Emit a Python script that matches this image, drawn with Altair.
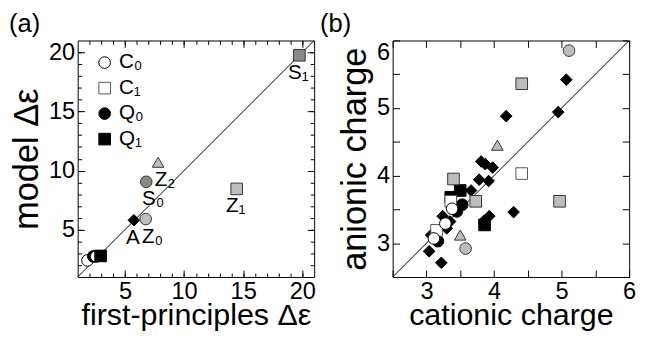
import altair as alt
import pandas as pd

FONT = "Liberation Sans"

# ---- category styles (shared by both panels) ----
cats = ["C₀", "C₁", "Q₀", "Q₁", "Z₀", "Z₁", "Z₂", "S₀", "S₁", "A"]
cat_shape = ["circle", "square", "circle", "square", "circle", "square",
             "triangle-up", "circle", "square", "diamond"]
cat_fill = ["#ffffff", "#ffffff", "#000000", "#000000", "#bdbdbd", "#bdbdbd",
            "#bdbdbd", "#8a8a8a", "#8a8a8a", "#000000"]
cat_stroke = ["#000000", "#555555", "#000000", "#000000", "#333333", "#333333",
              "#333333", "#333333", "#333333", "#000000"]
cat_size = [140, 140, 140, 165, 150, 150, 150, 150, 150, 210]
legend_cats = ["C₀", "C₁", "Q₀", "Q₁"]

# ---- panel (a) data ----
a_cat = ["C₀", "Q₀", "C₀", "Q₁", "A", "Z₀", "S₀", "Z₂", "Z₁", "S₁"]
a_x = [1.83, 2.32, 2.57, 2.94, 5.75, 6.75, 6.8, 7.8, 14.45, 19.75]
a_y = [2.40, 2.74, 2.74, 2.78, 5.8, 5.9, 9.05, 10.7, 8.45, 19.75]
lab_left = ["S₁", "Z₁", "A"]
lab_right = ["Z₂", "S₀", "Z₀"]
a_diag = [1, 21]
a_domain = [1, 21]
a_major = [5, 10, 15, 20]
a_minor = list(range(2, 21))

# ---- panel (b) data ----
b_cat = (["A"] * 18 + ["Q₁"] * 3 + ["Q₀"] * 3 + ["C₁"] * 3 + ["Z₁"] * 4
         + ["Z₂"] * 2 + ["Z₀"] * 2 + ["C₀"] * 3)
b_x = [5.07, 4.95, 4.18, 3.81, 3.87, 3.98, 3.78, 3.92, 3.66, 4.29, 3.93, 3.85,
       3.24, 3.35, 3.30, 3.07, 3.04, 3.22,
       3.50, 3.36, 3.86,
       3.53, 3.45, 3.17,
       4.41, 3.36, 3.15,
       4.41, 3.40, 3.73, 4.97,
       4.05, 3.50,
       5.11, 3.58,
       3.38, 3.28, 3.11]
b_y = [5.42, 4.94, 4.88, 4.21, 4.17, 4.12, 3.94, 3.92, 3.78, 3.46, 3.40, 3.33,
       3.40, 3.32, 3.22, 3.12, 2.88, 2.71,
       3.78, 3.68, 3.27,
       3.57, 3.47, 3.03,
       4.03, 3.62, 3.19,
       5.36, 3.95, 3.62, 3.62,
       4.45, 3.12,
       5.85, 2.92,
       3.51, 3.29, 3.07]
b_diag = [2.5, 6]
b_domain = [2.5, 6]
b_ticks = [2.5, 3, 3.5, 4, 4.5, 5, 5.5, 6]

W = 241


def ax(orient, values, size, labels=False, title=None, title_pad=4,
       title_size=31, **extra):
    kw = dict(orient=orient, values=values, tickSize=size, offset=-size,
              domain=False, grid=False, ticks=True, tickColor="#000000",
              tickWidth=1, tickOpacity=1, labels=labels, title=title)
    if labels:
        kw.update(labelFont=FONT, labelFontSize=24, labelColor="black",
                  labelPadding=3, labelFlush=False, labelOverlap=False)
    if title:
        kw.update(titleFont=FONT, titleFontSize=title_size,
                  titleFontWeight="normal", titleColor="black",
                  titlePadding=title_pad)
    kw.update(extra)
    return alt.Axis(**kw)


def style_enc(show_legend):
    if show_legend:
        leg = alt.Legend(orient="none", legendX=17, legendY=12, values=legend_cats,
                         title=None, labelFont=FONT, labelFontSize=21,
                         labelColor="black", symbolStrokeWidth=1, rowPadding=4,
                         labelOffset=4)
    else:
        leg = None
    return dict(
        shape=alt.Shape("cat:N", scale=alt.Scale(domain=cats, range=cat_shape), legend=leg),
        fill=alt.Fill("cat:N", scale=alt.Scale(domain=cats, range=cat_fill), legend=leg),
        stroke=alt.Stroke("cat:N", scale=alt.Scale(domain=cats, range=cat_stroke), legend=leg),
        size=alt.Size("cat:N", scale=alt.Scale(domain=cats, range=cat_size), legend=leg),
    )


# ---------------- panel (a) ----------------
sa = alt.Scale(domain=a_domain, nice=False, zero=False)
df_a = pd.DataFrame({"cat": a_cat, "x": a_x, "y": a_y})
df_ad = pd.DataFrame({"d": a_diag})

line_a = alt.Chart(df_ad).mark_line(color="black", strokeWidth=1, clip=True).encode(
    x=alt.X("d:Q", scale=sa, axis=ax("bottom", a_major, 7, labels=True,
                                      title="first-principles Δε", title_pad=-3,
                                      title_size=31)),
    y=alt.Y("d:Q", scale=sa, axis=ax("left", a_major, 7, labels=True,
                                      title="model Δε", title_pad=4,
                                      title_size=35)),
)
pts_a = alt.Chart(df_a).mark_point(filled=True, opacity=1, strokeWidth=1).encode(
    x=alt.X("x:Q", scale=sa, axis=ax("bottom", a_minor, 4)),
    y=alt.Y("y:Q", scale=sa, axis=ax("left", a_minor, 4)),
    **style_enc(True),
)
txt_l = alt.Chart(df_a).transform_filter(
    alt.FieldOneOfPredicate(field="cat", oneOf=lab_left)
).mark_text(font=FONT, fontSize=21, dy=18, dx=-1, align="center",
            baseline="middle", color="black").encode(
    x=alt.X("x:Q", scale=sa, axis=ax("top", a_major, 7)),
    y=alt.Y("y:Q", scale=sa, axis=ax("right", a_major, 7)),
    text="cat:N",
)
txt_r = alt.Chart(df_a).transform_filter(
    alt.FieldOneOfPredicate(field="cat", oneOf=lab_right)
).mark_text(font=FONT, fontSize=21, dy=18, dx=7, align="center",
            baseline="middle", color="black").encode(
    x=alt.X("x:Q", scale=sa, axis=ax("top", a_minor, 4)),
    y=alt.Y("y:Q", scale=sa, axis=ax("right", a_minor, 4)),
    text="cat:N",
)
panel_a = alt.layer(line_a, pts_a, txt_l, txt_r).resolve_axis(
    x="independent", y="independent"
).properties(
    width=W, height=W,
    title=alt.TitleParams(text="(a)", anchor="start", frame="group", fontSize=26,
                          font=FONT, fontWeight="normal", color="black",
                          dx=-70, offset=3),
)

# ---------------- panel (b) ----------------
sb = alt.Scale(domain=b_domain, nice=False, zero=False)
df_b = pd.DataFrame({"cat": b_cat, "x": b_x, "y": b_y})
df_bd = pd.DataFrame({"d": b_diag})
int_only = "datum.value % 1 === 0 ? format(datum.value, 'd') : ''"

line_b = alt.Chart(df_bd).mark_line(color="black", strokeWidth=1, clip=True).encode(
    x=alt.X("d:Q", scale=sb, axis=ax("bottom", b_ticks, 7, labels=True,
                                      title="cationic charge", title_pad=-3,
                                      title_size=31, labelExpr=int_only)),
    y=alt.Y("d:Q", scale=sb, axis=ax("left", b_ticks, 7, labels=True,
                                      title="anionic charge", title_pad=4,
                                      title_size=35, labelExpr=int_only,
                                      labelFlush=True)),
)
pts_b = alt.Chart(df_b).mark_point(filled=True, opacity=1, strokeWidth=1).encode(
    x=alt.X("x:Q", scale=sb, axis=ax("top", b_ticks, 7)),
    y=alt.Y("y:Q", scale=sb, axis=ax("right", b_ticks, 7)),
    **style_enc(False),
)
panel_b = alt.layer(line_b, pts_b).resolve_axis(
    x="independent", y="independent"
).properties(
    width=W, height=W,
    title=alt.TitleParams(text="(b)", anchor="start", frame="group", fontSize=26,
                          font=FONT, fontWeight="normal", color="black",
                          dx=-74, offset=3),
)

chart = alt.hconcat(panel_a, panel_b, spacing=80, bounds="flush").resolve_scale(
    shape="independent", fill="independent", stroke="independent", size="independent"
).properties(
    padding={"left": 0, "top": 0, "right": 0, "bottom": 0}
).configure(font=FONT).configure_view(stroke="black", strokeWidth=1)

chart.save("out.html", embed_options={"renderer": "svg", "actions": False})
